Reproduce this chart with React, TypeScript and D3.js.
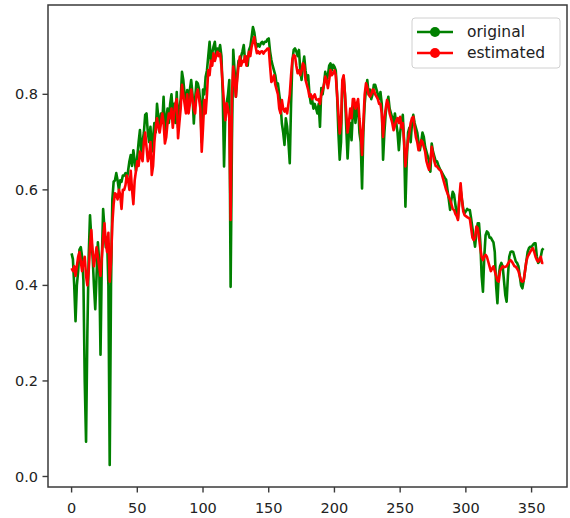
import React from "react";
import * as d3 from "d3";

const seriesNames = ["original", "estimated"];
const seriesColors = ["#008000", "#ff0000"];
const xTicks = [0, 50, 100, 150, 200, 250, 300, 350];
const yTicks = [0.0, 0.2, 0.4, 0.6, 0.8];

const original = [
  0.467, 0.455, 0.40, 0.325, 0.40, 0.43, 0.475, 0.48, 0.46, 0.41,
  0.20, 0.073, 0.30, 0.46, 0.547, 0.50, 0.46, 0.40, 0.35, 0.42,
  0.49, 0.45, 0.255, 0.45, 0.56, 0.52, 0.48, 0.50, 0.40, 0.024,
  0.40, 0.58, 0.617, 0.62, 0.635, 0.62, 0.60, 0.62, 0.617, 0.63,
  0.63, 0.635, 0.62, 0.64, 0.66, 0.673, 0.65, 0.683, 0.66, 0.64,
  0.67, 0.70, 0.725, 0.68, 0.70, 0.72, 0.757, 0.76, 0.72, 0.70,
  0.732, 0.68, 0.71, 0.74, 0.72, 0.78, 0.75, 0.73, 0.76, 0.74,
  0.795, 0.72, 0.75, 0.77, 0.74, 0.78, 0.80, 0.76, 0.78, 0.74,
  0.805, 0.73, 0.77, 0.79, 0.847, 0.83, 0.80, 0.78, 0.809, 0.77,
  0.81, 0.83, 0.80, 0.739, 0.79, 0.826, 0.823, 0.81, 0.78, 0.70,
  0.81, 0.80, 0.837, 0.85, 0.88, 0.91, 0.87, 0.886, 0.90, 0.91,
  0.88, 0.896, 0.89, 0.903, 0.88, 0.80, 0.649, 0.76, 0.781, 0.80,
  0.83, 0.397, 0.70, 0.893, 0.85, 0.795, 0.84, 0.87, 0.86, 0.88,
  0.89, 0.903, 0.87, 0.879, 0.86, 0.893, 0.90, 0.92, 0.941, 0.93,
  0.91, 0.90, 0.905, 0.90, 0.907, 0.91, 0.905, 0.91, 0.91, 0.915,
  0.917, 0.89, 0.872, 0.86, 0.85, 0.84, 0.82, 0.823, 0.80, 0.78,
  0.739, 0.72, 0.694, 0.75, 0.732, 0.70, 0.656, 0.78, 0.87, 0.893,
  0.896, 0.89, 0.88, 0.893, 0.85, 0.83, 0.86, 0.879, 0.85, 0.83,
  0.84, 0.80, 0.781, 0.79, 0.77, 0.78, 0.771, 0.76, 0.78, 0.732,
  0.813, 0.80, 0.82, 0.847, 0.83, 0.84, 0.86, 0.865, 0.85, 0.862,
  0.858, 0.85, 0.80, 0.72, 0.663, 0.70, 0.82, 0.837, 0.80, 0.73,
  0.666, 0.72, 0.74, 0.704, 0.76, 0.78, 0.74, 0.77, 0.78, 0.72,
  0.70, 0.603, 0.72, 0.78, 0.81, 0.83, 0.80, 0.81, 0.79, 0.80,
  0.82, 0.82, 0.81, 0.80, 0.79, 0.805, 0.78, 0.663, 0.72, 0.76,
  0.78, 0.795, 0.77, 0.76, 0.75, 0.739, 0.76, 0.74, 0.72, 0.683,
  0.72, 0.74, 0.757, 0.70, 0.565, 0.66, 0.72, 0.73, 0.70, 0.74,
  0.757, 0.74, 0.73, 0.72, 0.70, 0.683, 0.70, 0.72, 0.711, 0.69,
  0.68, 0.67, 0.66, 0.638, 0.697, 0.68, 0.67, 0.66, 0.66, 0.652,
  0.645, 0.64, 0.635, 0.63, 0.625, 0.621, 0.60, 0.58, 0.558, 0.58,
  0.596, 0.59, 0.57, 0.55, 0.541, 0.58, 0.60, 0.58, 0.56, 0.551,
  0.555, 0.56, 0.558, 0.558, 0.54, 0.52, 0.50, 0.481, 0.51, 0.53,
  0.53, 0.49, 0.42, 0.387, 0.46, 0.505, 0.513, 0.51, 0.50, 0.50,
  0.495, 0.49, 0.47, 0.40, 0.363, 0.42, 0.44, 0.447, 0.44, 0.41,
  0.38, 0.366, 0.42, 0.46, 0.47, 0.471, 0.47, 0.46, 0.45, 0.447,
  0.44, 0.42, 0.40, 0.394, 0.41, 0.43, 0.45, 0.47, 0.478, 0.481,
  0.48, 0.485, 0.488, 0.488, 0.46, 0.447, 0.45, 0.46, 0.474, 0.478,
];

const estimated = [
  0.436, 0.43, 0.44, 0.42, 0.44, 0.46, 0.47, 0.45, 0.43, 0.45,
  0.46, 0.42, 0.40, 0.43, 0.48, 0.516, 0.47, 0.44, 0.46, 0.48,
  0.46, 0.44, 0.42, 0.46, 0.50, 0.53, 0.49, 0.47, 0.51, 0.408,
  0.45, 0.53, 0.57, 0.593, 0.59, 0.58, 0.60, 0.59, 0.56, 0.60,
  0.60, 0.61, 0.63, 0.62, 0.60, 0.64, 0.60, 0.57, 0.62, 0.64,
  0.66, 0.65, 0.68, 0.67, 0.66, 0.70, 0.72, 0.69, 0.66, 0.67,
  0.70, 0.631, 0.65, 0.70, 0.73, 0.75, 0.73, 0.72, 0.74, 0.76,
  0.74, 0.697, 0.71, 0.74, 0.76, 0.75, 0.77, 0.73, 0.76, 0.78,
  0.79, 0.708, 0.74, 0.77, 0.82, 0.80, 0.78, 0.76, 0.80, 0.76,
  0.78, 0.81, 0.79, 0.77, 0.76, 0.80, 0.81, 0.79, 0.77, 0.68,
  0.73, 0.788, 0.76, 0.80, 0.851, 0.84, 0.87, 0.86, 0.886, 0.87,
  0.88, 0.889, 0.88, 0.885, 0.86, 0.82, 0.78, 0.746, 0.781, 0.77,
  0.75, 0.537, 0.80, 0.858, 0.83, 0.795, 0.83, 0.86, 0.879, 0.86,
  0.87, 0.868, 0.88, 0.86, 0.875, 0.889, 0.88, 0.90, 0.91, 0.92,
  0.90, 0.886, 0.89, 0.885, 0.889, 0.89, 0.885, 0.89, 0.892, 0.896,
  0.896, 0.86, 0.826, 0.83, 0.84, 0.82, 0.81, 0.80, 0.77, 0.76,
  0.788, 0.77, 0.764, 0.77, 0.76, 0.78, 0.80, 0.84, 0.872, 0.882,
  0.88, 0.86, 0.844, 0.85, 0.84, 0.85, 0.865, 0.86, 0.83, 0.82,
  0.81, 0.795, 0.80, 0.79, 0.795, 0.80, 0.79, 0.788, 0.79, 0.78,
  0.80, 0.809, 0.82, 0.837, 0.83, 0.813, 0.83, 0.851, 0.84, 0.844,
  0.85, 0.84, 0.80, 0.76, 0.718, 0.74, 0.83, 0.84, 0.80, 0.76,
  0.72, 0.74, 0.77, 0.75, 0.79, 0.79, 0.77, 0.78, 0.79, 0.75,
  0.72, 0.673, 0.74, 0.80, 0.823, 0.815, 0.80, 0.795, 0.80, 0.81,
  0.809, 0.80, 0.795, 0.79, 0.78, 0.78, 0.76, 0.711, 0.75, 0.77,
  0.788, 0.78, 0.76, 0.75, 0.74, 0.725, 0.735, 0.745, 0.75, 0.74,
  0.753, 0.73, 0.74, 0.70, 0.649, 0.68, 0.704, 0.72, 0.74, 0.75,
  0.753, 0.73, 0.71, 0.70, 0.683, 0.69, 0.704, 0.70, 0.69, 0.68,
  0.66, 0.65, 0.642, 0.66, 0.69, 0.675, 0.66, 0.65, 0.649, 0.645,
  0.642, 0.64, 0.63, 0.62, 0.61, 0.60, 0.593, 0.585, 0.579, 0.57,
  0.56, 0.558, 0.55, 0.545, 0.537, 0.58, 0.614, 0.58, 0.555, 0.547,
  0.545, 0.543, 0.541, 0.54, 0.52, 0.50, 0.495, 0.50, 0.523, 0.52,
  0.50, 0.478, 0.46, 0.453, 0.46, 0.464, 0.46, 0.45, 0.44, 0.43,
  0.435, 0.44, 0.43, 0.42, 0.41, 0.408, 0.43, 0.436, 0.44, 0.438,
  0.439, 0.44, 0.445, 0.45, 0.453, 0.45, 0.445, 0.44, 0.439, 0.435,
  0.43, 0.42, 0.41, 0.408, 0.41, 0.43, 0.45, 0.46, 0.465, 0.47,
  0.475, 0.478, 0.47, 0.46, 0.453, 0.45, 0.455, 0.46, 0.447, 0.447,
];

const W = 570;
const H = 518;
const M = { left: 48, top: 5, right: 567, bottom: 487 };

export default function App() {
  const n = original.length;
  const xPad = (n - 1) * 0.05;
  const x = d3.scaleLinear().domain([-xPad, n - 1 + xPad]).range([M.left, M.right]);
  const y = d3.scaleLinear().domain([-0.022, 0.987]).range([M.bottom, M.top]);
  const line = d3
    .line<number>()
    .x((_, i) => x(i))
    .y((d) => y(d));
  const series = [original, estimated];
  const font = "'DejaVu Sans', sans-serif";
  const axisColor = "#3a3a3a";
  return (
    <svg
      width={W}
      height={H}
      style={{ position: "absolute", left: 0, top: 0, background: "#fff" }}
      fontFamily={font}
    >
      <rect x={0} y={0} width={W} height={H} fill="#fff" />
      <defs>
        <clipPath id="clip">
          <rect x={M.left} y={M.top} width={M.right - M.left} height={M.bottom - M.top} />
        </clipPath>
      </defs>
      <g clipPath="url(#clip)">
        {series.map((s, k) => (
          <path
            key={k}
            d={line(s) || ""}
            fill="none"
            stroke={seriesColors[k]}
            strokeWidth={2.6}
            strokeLinejoin="round"
          />
        ))}
      </g>
      <rect
        x={M.left}
        y={M.top}
        width={M.right - M.left}
        height={M.bottom - M.top}
        fill="none"
        stroke={axisColor}
        strokeWidth={1.5}
      />
      {yTicks.map((t) => (
        <g key={"y" + t}>
          <line x1={M.left - 5.5} x2={M.left} y1={y(t)} y2={y(t)} stroke={axisColor} strokeWidth={1.4} />
          <text x={M.left - 10} y={y(t)} dy="0.35em" textAnchor="end" fontSize={14.5} fill="#222">
            {t.toFixed(1)}
          </text>
        </g>
      ))}
      {xTicks.map((t) => (
        <g key={"x" + t}>
          <line x1={x(t)} x2={x(t)} y1={M.bottom} y2={M.bottom + 5.5} stroke={axisColor} strokeWidth={1.4} />
          <text x={x(t)} y={M.bottom + 21} dy="0.35em" textAnchor="middle" fontSize={14.5} fill="#222">
            {t}
          </text>
        </g>
      ))}
      <g>
        <rect x={412} y={18} width={148} height={50} rx={3} fill="#fff" fillOpacity={0.8} stroke="#d0d0d0" strokeWidth={1} />
        {seriesNames.map((name, k) => {
          const cy = 32 + k * 21;
          return (
            <g key={name}>
              <line x1={417} x2={453} y1={cy} y2={cy} stroke={seriesColors[k]} strokeWidth={2.6} />
              <circle cx={435} cy={cy} r={5} fill={seriesColors[k]} />
              <text x={467} y={cy} dy="0.35em" fontSize={15.5} fill="#222">
                {name}
              </text>
            </g>
          );
        })}
      </g>
    </svg>
  );
}
